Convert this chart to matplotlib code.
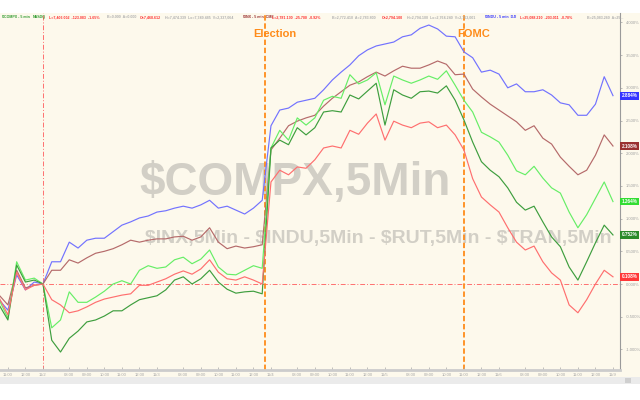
import numpy as np
import matplotlib
matplotlib.use("Agg")
import matplotlib.pyplot as plt
from matplotlib.patches import Rectangle
import matplotlib.transforms as mtransforms

plt.rcParams["font.family"] = ["Liberation Sans", "DejaVu Sans"]

# trading hours since the 11/2 open (one session = 6.5 h), sampled every 30 min
hours = np.arange(-2.5, 32.51, 0.5)

# % change from the 11/2 open
compx = [-0.24, -0.40, 0.14, -0.09, 0.03, 0.00, 0.34, 0.34, 0.64, 0.55,
         0.67, 0.70, 0.70, 0.80, 0.90, 0.95, 1.01, 1.04, 1.10, 1.12,
         1.16, 1.19, 1.16, 1.21, 1.28, 1.16, 1.19, 1.13, 1.07, 1.16,
         1.28, 2.42, 2.66, 2.69, 2.78, 2.81, 2.84, 2.97, 3.12, 3.24,
         3.35, 3.49, 3.58, 3.64, 3.67, 3.70, 3.78, 3.81, 3.91, 3.96,
         3.90, 3.79, 3.78, 3.55, 3.46, 3.24, 3.27, 3.21, 3.00, 3.06,
         2.94, 2.94, 2.97, 2.89, 2.77, 2.74, 2.58, 2.58, 2.75, 3.17, 2.88]
inx = [-0.17, -0.32, 0.21, -0.06, -0.02, 0.00, 0.21, 0.21, 0.37, 0.32,
       0.40, 0.47, 0.50, 0.54, 0.60, 0.67, 0.64, 0.67, 0.69, 0.69,
       0.72, 0.73, 0.67, 0.72, 0.86, 0.64, 0.54, 0.58, 0.55, 0.57,
       0.60, 2.05, 2.23, 2.42, 2.49, 2.54, 2.58, 2.72, 2.84, 2.94,
       3.04, 3.09, 3.17, 3.24, 3.18, 3.26, 3.33, 3.30, 3.30, 3.35,
       3.41, 3.36, 3.20, 3.21, 2.98, 2.86, 2.75, 2.66, 2.57, 2.48,
       2.35, 2.42, 2.23, 2.14, 1.94, 1.80, 1.67, 1.74, 1.97, 2.28, 2.11]
indu = [-0.24, -0.52, 0.34, 0.06, 0.09, 0.00, -0.67, -0.55, -0.12, -0.28,
        -0.28, -0.20, -0.11, 0.00, 0.05, 0.00, 0.21, 0.28, 0.24, 0.26,
        0.37, 0.41, 0.31, 0.38, 0.52, 0.26, 0.15, 0.14, 0.21, 0.28,
        0.24, 2.08, 2.35, 2.20, 2.54, 2.43, 2.54, 2.81, 2.87, 2.84,
        3.20, 3.06, 3.12, 3.23, 2.74, 3.18, 3.12, 3.07, 3.12, 3.18,
        3.13, 3.26, 3.04, 2.81, 2.63, 2.32, 2.25, 2.17, 1.97, 1.73,
        1.67, 1.80, 1.62, 1.47, 1.39, 1.10, 0.86, 1.06, 1.31, 1.56, 1.26]
rut = [-0.32, -0.55, 0.29, 0.03, 0.06, 0.00, -0.86, -1.04, -0.83, -0.72,
       -0.58, -0.55, -0.49, -0.41, -0.41, -0.32, -0.24, -0.21, -0.18, -0.09,
       0.06, 0.11, 0.00, 0.08, 0.21, 0.03, -0.08, -0.14, -0.12, -0.11,
       -0.15, 2.08, 2.20, 2.13, 2.39, 2.28, 2.39, 2.63, 2.65, 2.63,
       2.89, 2.83, 2.95, 3.07, 2.43, 2.97, 2.89, 2.84, 2.94, 2.95,
       2.92, 3.03, 2.81, 2.51, 2.17, 1.87, 1.74, 1.64, 1.47, 1.25,
       1.13, 1.19, 0.95, 0.72, 0.57, 0.26, 0.06, 0.34, 0.63, 0.90, 0.75]
tran = [-0.21, -0.47, 0.18, -0.09, -0.02, 0.00, -0.24, -0.32, -0.44, -0.41,
        -0.35, -0.28, -0.23, -0.20, -0.17, -0.15, -0.02, -0.02, 0.03, 0.08,
        0.15, 0.20, 0.15, 0.23, 0.37, 0.18, 0.08, 0.06, 0.11, 0.06,
        0.00, 1.56, 1.74, 1.67, 1.79, 1.77, 1.90, 2.08, 2.11, 2.08,
        2.35, 2.29, 2.46, 2.60, 2.20, 2.49, 2.43, 2.39, 2.46, 2.48,
        2.39, 2.43, 2.28, 2.05, 1.61, 1.33, 1.21, 1.10, 0.86, 0.64,
        0.52, 0.58, 0.34, 0.17, 0.06, -0.32, -0.44, -0.24, 0.00, 0.21, 0.11]

series = [
    (compx, "#7272ff", "#3535ff", "2.884%"),
    (inx, "#b56a6a", "#9a3030", "2.108%"),
    (indu, "#66ee66", "#33dd33", "1.264%"),
    (rut, "#3e9e3e", "#2a8a2a", "0.752%"),
    (tran, "#ff6f6f", "#ff3838", "0.108%"),
]

sessions = ["10/30", "11/2", "11/3", "11/4", "11/5", "11/6", "11/9"]
session_hours = ["08:00", "09:00", "10:00", "11:00", "12:00"]
events = [(12.66, "Election"), (24.0, "FOMC")]
y_ticks = [-1.0, -0.5, 0.0, 0.5, 1.0, 1.5, 2.0, 2.5, 3.0, 3.5, 4.0]

CREAM = "#fdf9ec"
W, H = 640, 400

fig = plt.figure(figsize=(6.4, 4.0), dpi=100, facecolor="white")
fig.patches.append(Rectangle((0, 1 - 377 / H), 1, (377 - 13) / H,
                             transform=fig.transFigure, fc=CREAM, ec="none", zorder=-5))
fig.patches.append(Rectangle((0, 1 - 384 / H), 1, 7 / H,
                             transform=fig.transFigure, fc="#ebebeb", ec="none", zorder=-5))
fig.patches.append(Rectangle((625 / W, 1 - 383 / H), 6 / W, 5 / H,
                             transform=fig.transFigure, fc="#cfcfcf", ec="none", zorder=-4))

ax = fig.add_axes([0, 1 - 370 / H, 620 / W, (370 - 13) / H])
ax.set_facecolor(CREAM)
ax.set_xlim(-2.45, 32.9)
ax.set_ylim(-1.315, 4.144)

# watermark
ax.text(0.476, 0.49, "$COMPX,5Min", transform=ax.transAxes, ha="center", va="baseline",
        fontsize=33, fontweight="bold", color="#d2cfc6", zorder=0, parse_math=False)
ax.text(0.234, 0.356, "$INX,5Min - $INDU,5Min - $RUT,5Min - $TRAN,5Min",
        transform=ax.transAxes, ha="left", va="baseline", fontsize=14,
        fontweight="bold", color="#d2cfc6", zorder=0, clip_on=True, parse_math=False)

# reference lines
ax.axhline(0, color="#ff7070", lw=0.7, dashes=(5, 2, 1, 2), zorder=1)
ax.axvline(0, color="#ff7070", lw=0.7, dashes=(5, 2, 1, 2), zorder=1)
for t, label in events:
    ax.axvline(t, color="#ff8c1a", lw=1.3, dashes=(3, 1.5), zorder=1)
    ax.text(t + 0.55, 3.82, label, ha="center", va="center", fontsize=8,
            fontweight="bold", color="#ff8c1a", zorder=4)

for vals, c, tag_c, tag in series:
    ax.plot(hours, vals, color=c, lw=0.85, zorder=3)

# value tags on the right
blend = mtransforms.blended_transform_factory(ax.transAxes, ax.transData)
for vals, c, tag_c, tag in series:
    ax.text(1 + 9.5 / 620, vals[-1], tag, transform=blend, ha="center", va="center",
            fontsize=3.3, fontweight="bold", color="white", clip_on=False, zorder=6,
            bbox=dict(boxstyle="square,pad=0.3", fc=tag_c, ec="none"))

# axes styling
for s in ["top", "left"]:
    ax.spines[s].set_visible(False)
ax.spines["right"].set_color("#9a9a9a")
ax.spines["right"].set_linewidth(0.8)
ax.spines["bottom"].set_color("#cccccc")
ax.spines["bottom"].set_linewidth(2)
ax.yaxis.tick_right()
ax.set_yticks(y_ticks)
ax.set_yticklabels([f"{v:.3f}%" for v in y_ticks])
ax.tick_params(axis="y", labelsize=3, colors="#a0a0a0", length=1.5, pad=2.5, width=0.5)

xt, xl = [], []
for i, d in enumerate(sessions):
    start = (i - 1) * 6.5
    if i > 0:
        xt.append(start)
        xl.append(d)
    for h in session_hours:
        t = start + int(h[:2]) - 6.5
        if ax.get_xlim()[0] < t < 32.9:
            xt.append(t)
            xl.append(h)
ax.set_xticks(xt)
ax.set_xticklabels(xl)
ax.tick_params(axis="x", labelsize=3, colors="#a8a8a8", direction="in", length=2,
               pad=2, width=0.5)

# header quote line
header = [
    (2, "$COMPX - 5 min", "#2e9a2e"), (33, "NASDQ", "#2e9a2e"),
    (49, "L=7,406.002  -123.083  -1.65%", "#ff3030"), (107, "B=0.000  A=0.000", "#b0b0b0"),
    (140, "O=7,468.612", "#ff3030"), (165, "H=7,474.339  Lo=7,349.485  V=2,337,064", "#b0b0b0"),
    (243, "$INX - 5 min  CME", "#9a3030"), (272, "L=2,781.130  -25.700  -0.92%", "#ff3030"),
    (332, "B=2,772.410  A=2,783.800", "#b0b0b0"), (382, "O=2,794.100", "#ff3030"),
    (407, "H=2,794.100  Lo=2,764.240  V=2,763,001", "#b0b0b0"),
    (485, "$INDU - 5 min  DJI", "#3535ff"), (520, "L=25,088.210  -203.011  -0.78%", "#ff3030"),
    (587, "B=25,083.260  A=25...", "#b0b0b0"),
]
for x, s, c in header:
    fig.text(x / W, 1 - 17 / H, s, fontsize=2.6, color=c, fontweight="bold",
             ha="left", va="center", parse_math=False)

fig.savefig("out.png", dpi=100, facecolor="white")
